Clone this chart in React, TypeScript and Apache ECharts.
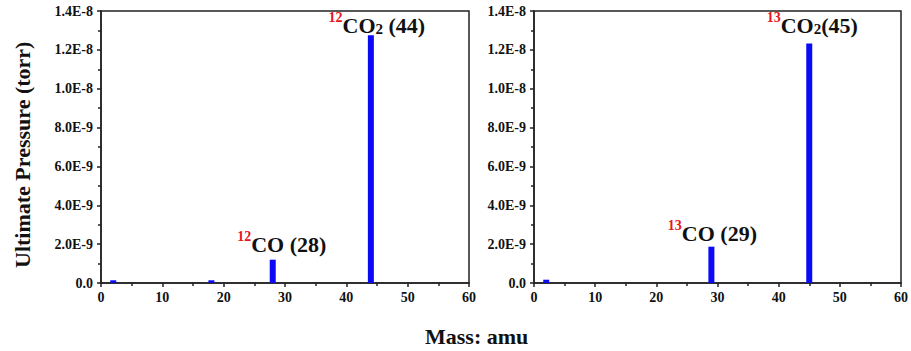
import React, { useEffect, useRef } from "react";
import * as echarts from "echarts";

const massesLeft = [2, 18, 28, 44];
const pressuresLeft = [1.4e-10, 1.4e-10, 1.2e-9, 1.275e-8];
const massesRight = [2, 29, 45];
const pressuresRight = [1.7e-10, 1.87e-9, 1.233e-8];
const labelsLeft: (string | null)[] = [null, null, "{sup|12}{b|CO (28)}", "{sup|12}{b|CO}{sub|2}{b| (44)}"];
const labelsRight: (string | null)[] = [null, "{sup|13}{b|CO (29)}", "{sup|13}{b|CO}{sub|2}{b|(45)}"];
const labelOffsetsLeft = [[0, 0], [0, 0], [9, -4], [6, 1]];
const labelOffsetsRight = [[0, 0], [1, -2], [3, -7]];
const yTickMax = 1.4e-8;
const yTickStep = 2e-9;
const xMax = 60;
const xStep = 10;

const FONT = "Liberation Serif";

const rich = {
  b: { fontFamily: FONT, fontWeight: "bold", fontSize: 22, color: "#111", lineHeight: 26, verticalAlign: "bottom" },
  sup: { fontFamily: FONT, fontWeight: "bold", fontSize: 14, color: "#e8141c", lineHeight: 26, verticalAlign: "top" },
  sub: { fontFamily: FONT, fontWeight: "bold", fontSize: 15, color: "#111", lineHeight: 22, verticalAlign: "bottom" },
};

function makeData(xs: number[], ys: number[], labels: (string | null)[], offs: number[][]) {
  return xs.map((x, i) => ({
    value: [x, ys[i]],
    label: labels[i]
      ? { show: true, position: "top", distance: 0, formatter: labels[i], offset: offs[i], rich, fontFamily: FONT }
      : { show: false },
  }));
}

const axisLine = { show: true, lineStyle: { color: "#222", width: 1.5 } };
const tickLabel = { fontFamily: FONT, fontWeight: "bold", fontSize: 14, color: "#111" };

export default function App() {
  const ref = useRef<HTMLDivElement>(null);
  useEffect(() => {
    const chart = echarts.init(ref.current!, null, { renderer: "svg" });
    const xAxisBase = {
      type: "value",
      min: 0,
      max: xMax,
      interval: xStep,
      axisLine,
      axisTick: { show: true, inside: false, length: 4, lineStyle: { color: "#222", width: 1.5 } },
      minorTick: { show: true, splitNumber: 2, length: 3, lineStyle: { color: "#222", width: 1.5 } },
      splitLine: { show: false },
      axisLabel: { ...tickLabel, margin: 7 },
    };
    const yAxisBase = {
      type: "value",
      min: 0,
      max: yTickMax,
      interval: yTickStep,
      axisLine,
      axisTick: { show: true, inside: false, length: 4, lineStyle: { color: "#222", width: 1.5 } },
      minorTick: { show: true, splitNumber: 2, length: 3, lineStyle: { color: "#222", width: 1.5 } },
      splitLine: { show: false },
      axisLabel: {
        ...tickLabel,
        margin: 8,
        formatter: (v: number) => (v === 0 ? "0.0" : v.toExponential(1).toUpperCase()),
      },
    };
    chart.setOption({
      animation: false,
      backgroundColor: "#fff",
      textStyle: { fontFamily: FONT },
      grid: [
        { left: 101, right: 442, top: 11, bottom: 68, show: true, borderColor: "#222", borderWidth: 1.5 },
        { left: 534, right: 9, top: 11, bottom: 68, show: true, borderColor: "#222", borderWidth: 1.5 },
      ],
      xAxis: [
        { ...xAxisBase, gridIndex: 0 },
        { ...xAxisBase, gridIndex: 1 },
      ],
      yAxis: [
        { ...yAxisBase, gridIndex: 0 },
        { ...yAxisBase, gridIndex: 1 },
      ],
      series: [
        {
          type: "bar",
          xAxisIndex: 0,
          yAxisIndex: 0,
          barWidth: 6,
          itemStyle: { color: "#0a0af5" },
          data: makeData(massesLeft, pressuresLeft, labelsLeft, labelOffsetsLeft),
        },
        {
          type: "bar",
          xAxisIndex: 1,
          yAxisIndex: 1,
          barWidth: 6,
          itemStyle: { color: "#0a0af5" },
          data: makeData(massesRight, pressuresRight, labelsRight, labelOffsetsRight),
        },
      ],
      graphic: [
        {
          type: "text",
          rotation: Math.PI / 2,
          x: 11,
          y: 268,
          style: {
            text: "Ultimate Pressure (torr)",
            fontFamily: FONT,
            fontWeight: "bold",
            fontSize: 22,
            fill: "#111",
          },
        },
        {
          type: "text",
          x: 425,
          y: 325,
          style: {
            text: "Mass: amu",
            fontFamily: FONT,
            fontWeight: "bold",
            fontSize: 22,
            fill: "#111",
          },
        },
      ],
    });
    return () => chart.dispose();
  }, []);
  return <div ref={ref} style={{ position: "fixed", left: 0, top: 0, width: 911, height: 351 }} />;
}
